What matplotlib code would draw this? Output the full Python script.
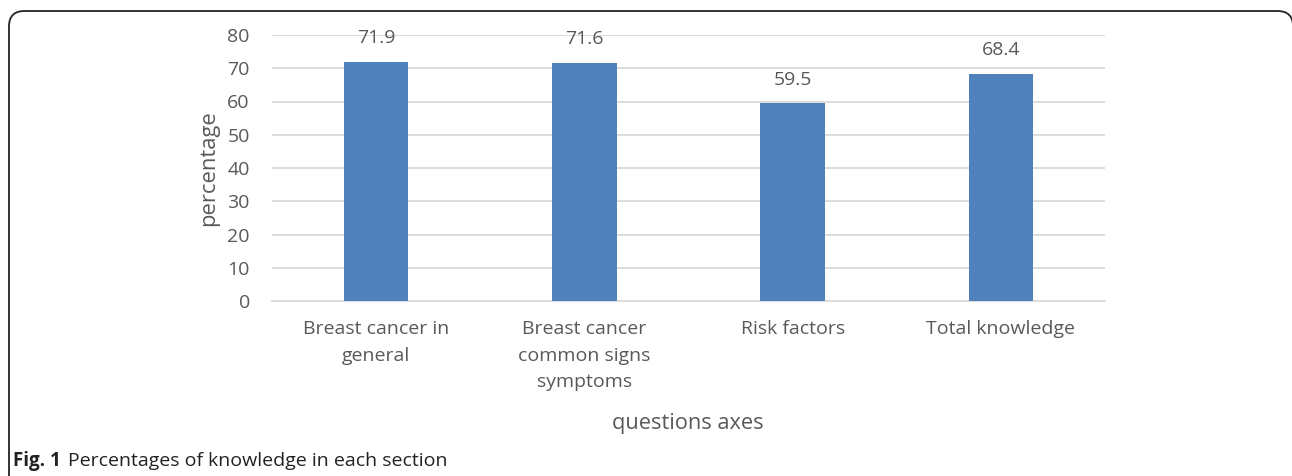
import matplotlib.pyplot as plt
from matplotlib.patches import FancyBboxPatch
import numpy as np

plt.rcParams['font.family'] = ['Open Sans', 'DejaVu Sans']

categories = ['Breast cancer in\ngeneral', 'Breast cancer\ncommon signs\nsymptoms',
              'Risk factors', 'Total knowledge']
values = [71.9, 71.6, 59.5, 68.4]
yticks = [0, 10, 20, 30, 40, 50, 60, 70, 80]

text_col = '#595959'
bar_col = '#4f81bd'
grid_col = '#d9d9d9'

fig = plt.figure(figsize=(12.92, 4.76), dpi=100)
ax = fig.add_axes([272 / 1292, 1 - 301 / 476, 833 / 1292, 266 / 476])

x = np.arange(len(categories))
bars = ax.bar(x, values, width=0.31, color=bar_col, zorder=3)
for b, v in zip(bars, values):
    ax.annotate(f'{v}', (b.get_x() + b.get_width() / 2, v), xytext=(0, 10.5),
                textcoords='offset points', ha='center', va='bottom',
                fontsize=14, color=text_col)

ax.set_xlim(-0.5, len(categories) - 0.5)
ax.set_ylim(0, 80)
ax.set_yticks(yticks)
ax.set_xticks(x)
ax.set_xticklabels(categories, linespacing=1.58)
ax.tick_params(axis='both', length=0, labelsize=14, labelcolor=text_col)
ax.tick_params(axis='y', pad=16)
ax.tick_params(axis='x', pad=14)
ax.yaxis.grid(True, color=grid_col, linewidth=1.3, zorder=0)
for s in ['top', 'right', 'left']:
    ax.spines[s].set_visible(False)
ax.spines['bottom'].set_color(grid_col)
ax.spines['bottom'].set_linewidth(1.3)

ax.set_ylabel('percentage', fontsize=15.8, color=text_col, labelpad=6)
fig.text(688 / 1292, 1 - 423 / 476, 'questions axes', ha='center', va='center',
         fontsize=15.7, color=text_col)

# caption
fig.text(13 / 1292, 1 - 461 / 476, 'Fig. 1', ha='left', va='center', fontsize=13.5,
         fontweight='bold', color='#222222')
fig.text(68 / 1292, 1 - 461 / 476, 'Percentages of knowledge in each section',
         ha='left', va='center', fontsize=14, color='#222222')

# border frame (rounded top corners, open at the bottom, right side just off the edge)
frame = FancyBboxPatch((9 / 1292, -0.2), (1293 - 9) / 1292, 1 - 11 / 476 + 0.2,
                       boxstyle='round,pad=0,rounding_size=0.012',
                       transform=fig.transFigure, fill=False, edgecolor='#222222',
                       linewidth=1.3, mutation_aspect=2.7)
fig.patches.append(frame)

fig.savefig('out.png', dpi=100)
